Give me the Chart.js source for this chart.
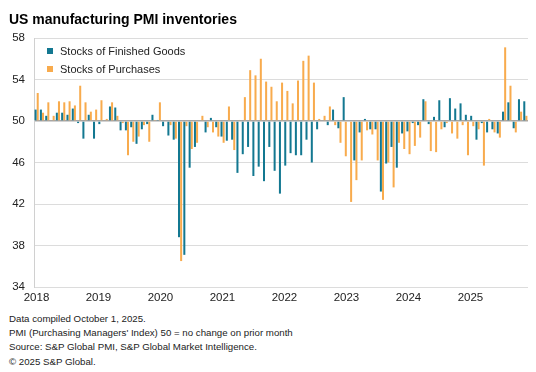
<!DOCTYPE html>
<html lang="en">
<head>
    <meta charset="UTF-8">
    <title>US manufacturing PMI inventories</title>
    <script src="https://cdn.jsdelivr.net/npm/chart.js"></script>
    <style>
        body {
            margin: 0;
            background: #fff;
            font-family: Arial, "Liberation Sans", sans-serif;
            width: 536px;
            height: 372px;
            position: relative;
            overflow: hidden;
        }
        .title {
            position: absolute;
            left: 9px;
            top: 12px;
            font-size: 14px;
            line-height: 14px;
            font-weight: bold;
            color: #000;
        }
        .chart-box {
            position: absolute;
            left: 0;
            top: 0;
            width: 536px;
            height: 310px;
        }
        .legend {
            position: absolute;
            left: 47px;
            top: 43px;
            font-size: 11px;
            color: #222;
        }
        .legend div {
            height: 18px;
            line-height: 16px;
        }
        .legend span {
            display: inline-block;
            width: 6px;
            height: 6px;
            margin-right: 7px;
            vertical-align: 1px;
        }
        .notes {
            position: absolute;
            left: 9px;
            top: 312px;
            font-size: 9.7px;
            line-height: 14.2px;
            color: #222;
        }
    </style>
</head>
<body>
    <div class="chart-box">
        <canvas id="pmiChart"></canvas>
    </div>
    <div class="title">US manufacturing PMI inventories</div>
    <div class="legend" id="legend"></div>
    <div class="notes">
        Data compiled October 1, 2025.<br>
        PMI (Purchasing Managers' Index) 50 = no change on prior month<br>
        Source: S&amp;P Global PMI, S&amp;P Global Market Intelligence.<br>
        &copy; 2025 S&amp;P Global.
    </div>
    <script>
        const months = [
            'Jan-18', 'Feb-18', 'Mar-18', 'Apr-18', 'May-18', 'Jun-18', 'Jul-18', 'Aug-18', 'Sep-18', 'Oct-18', 'Nov-18', 'Dec-18',
            'Jan-19', 'Feb-19', 'Mar-19', 'Apr-19', 'May-19', 'Jun-19', 'Jul-19', 'Aug-19', 'Sep-19', 'Oct-19', 'Nov-19', 'Dec-19',
            'Jan-20', 'Feb-20', 'Mar-20', 'Apr-20', 'May-20', 'Jun-20', 'Jul-20', 'Aug-20', 'Sep-20', 'Oct-20', 'Nov-20', 'Dec-20',
            'Jan-21', 'Feb-21', 'Mar-21', 'Apr-21', 'May-21', 'Jun-21', 'Jul-21', 'Aug-21', 'Sep-21', 'Oct-21', 'Nov-21', 'Dec-21',
            'Jan-22', 'Feb-22', 'Mar-22', 'Apr-22', 'May-22', 'Jun-22', 'Jul-22', 'Aug-22', 'Sep-22', 'Oct-22', 'Nov-22', 'Dec-22',
            'Jan-23', 'Feb-23', 'Mar-23', 'Apr-23', 'May-23', 'Jun-23', 'Jul-23', 'Aug-23', 'Sep-23', 'Oct-23', 'Nov-23', 'Dec-23',
            'Jan-24', 'Feb-24', 'Mar-24', 'Apr-24', 'May-24', 'Jun-24', 'Jul-24', 'Aug-24', 'Sep-24', 'Oct-24', 'Nov-24', 'Dec-24',
            'Jan-25', 'Feb-25', 'Mar-25', 'Apr-25', 'May-25', 'Jun-25', 'Jul-25', 'Aug-25', 'Sep-25'
        ];

        const finishedGoods = [
            51.1, 51.1, 50.5, 50.0, 50.8, 50.8, 50.6, 51.2, 49.8, 48.3, 50.6, 48.3,
            49.7, 50.0, 51.4, 51.3, 49.1, 49.1, 49.4, 47.8, 49.2, 49.7, 50.6, 50.1,
            49.5, 48.6, 48.2, 38.8, 37.1, 45.5, 47.5, 50.0, 48.9, 50.3, 49.4, 48.5,
            48.1, 48.2, 45.0, 46.8, 47.5, 44.7, 45.6, 44.2, 47.5, 45.2, 43.0, 45.7,
            46.9, 46.7, 46.7, 48.2, 46.0, 49.2, 50.0, 49.6, 51.1, 49.3, 52.3, 50.0,
            46.2, 48.9, 50.2, 49.2, 49.2, 43.2, 45.9, 47.5, 45.5, 48.8, 49.0, 49.8,
            49.6, 52.1, 49.7, 50.4, 52.0, 49.4, 52.2, 51.2, 51.7, 50.6, 50.5, 48.2,
            49.8, 48.9, 49.2, 48.8, 50.9, 51.8, 49.3, 52.1, 51.9
        ];

        const purchases = [
            52.7, 50.8, 51.8, 50.5, 51.9, 51.8, 51.9, 51.5, 53.4, 51.8, 50.9, 51.1,
            52.0, 50.2, 51.8, 50.5, 49.8, 46.7, 48.0, 48.5, 49.6, 48.0, 50.1, 51.8,
            50.0, 49.6, 48.3, 36.5, 49.5, 47.3, 47.9, 50.5, 49.4, 48.9, 48.5, 47.9,
            51.4, 47.2, 50.1, 52.3, 54.9, 54.4, 56.0, 53.8, 53.3, 51.9, 53.7, 52.9,
            51.7, 53.9, 55.8, 56.3, 53.7, 50.2, 50.5, 51.4, 49.6, 47.9, 46.6, 42.2,
            44.3, 46.2, 49.1, 48.7, 46.2, 42.4, 46.0, 43.6, 47.9, 47.3, 46.8, 47.6,
            48.4, 51.9, 47.1, 47.0, 49.2, 49.8, 48.8, 48.3, 49.6, 46.7, 49.5, 49.2,
            45.7, 50.2, 48.9, 48.4, 57.1, 53.4, 48.9, 50.9, 50.5
        ];

        const yearTicks = [2018, 2019, 2020, 2021, 2022, 2023, 2024, 2025];
        const yTicks = [34, 38, 42, 46, 50, 54, 58];

        const seriesNames = ['Stocks of Finished Goods', 'Stocks of Purchases'];
        const seriesColors = ['#137891', '#f8ab4d'];

        // legend sits inside the plot, so it's plain html on top of the canvas
        document.getElementById('legend').innerHTML = seriesNames.map((name, i) =>
            `<div><span style="background:${seriesColors[i]}"></span>${name}</div>`
        ).join('');

        const tickFont = { family: 'Arial, "Liberation Sans", sans-serif', size: 11.5 };

        new Chart(document.getElementById('pmiChart'), {
            type: 'bar',
            data: {
                labels: months,
                datasets: [
                    {
                        label: seriesNames[0],
                        data: finishedGoods,
                        base: 50,
                        backgroundColor: seriesColors[0],
                        categoryPercentage: 0.8,
                        barPercentage: 0.95
                    },
                    {
                        label: seriesNames[1],
                        data: purchases,
                        base: 50,
                        backgroundColor: seriesColors[1],
                        categoryPercentage: 0.8,
                        barPercentage: 0.95
                    }
                ]
            },
            options: {
                responsive: true,
                maintainAspectRatio: false,
                animation: false,
                layout: {
                    padding: { top: 38, right: 8, bottom: 3, left: 0 }
                },
                plugins: {
                    legend: { display: false },
                    tooltip: { enabled: false }
                },
                scales: {
                    x: {
                        type: 'category',
                        display: false,
                        offset: true
                    },
                    // year labels: own linear scale, spaced like the original
                    xYear: {
                        type: 'linear',
                        position: 'bottom',
                        offset: false,
                        bounds: 'data',
                        min: 2017.96,
                        max: 2025.928,
                        grid: { display: false, drawTicks: false },
                        border: { display: false },
                        afterBuildTicks: scale => {
                            scale.ticks = yearTicks.map(v => ({ value: v }));
                        },
                        afterFit: scale => { scale.height = 20; },
                        ticks: {
                            autoSkip: false,
                            maxRotation: 0,
                            padding: 4,
                            color: '#222',
                            font: tickFont,
                            callback: v => String(v)
                        }
                    },
                    y: {
                        min: 34,
                        max: 58,
                        afterBuildTicks: scale => {
                            scale.ticks = yTicks.map(v => ({ value: v }));
                        },
                        afterFit: scale => { scale.width = 34; },
                        grid: {
                            drawTicks: false,
                            color: ctx => ctx.tick && ctx.tick.value === 50 ? '#a6a6a6' : '#dcdcdc',
                            lineWidth: ctx => ctx.tick && ctx.tick.value === 50 ? 1.5 : 1
                        },
                        border: { display: true, color: '#d0d0d0' },
                        ticks: {
                            padding: 9,
                            color: '#222',
                            font: tickFont
                        }
                    }
                }
            }
        });
    </script>
</body>
</html>
